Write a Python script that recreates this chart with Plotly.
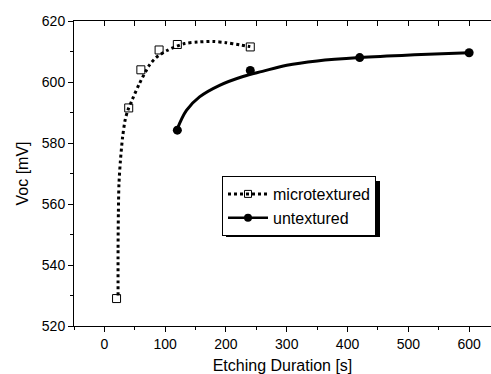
import plotly.graph_objects as go

# measured points
micro_x = [20, 40, 60, 90, 120, 240]
micro_y = [529.0, 591.5, 604.0, 610.5, 612.3, 611.5]
untex_x = [120, 240, 420, 600]
untex_y = [584.2, 603.8, 608.0, 609.6]

# fitted curves
micro_fit_x = [22.5, 22.5, 23.0, 24.0, 26.4, 30.0, 34.0, 38.5, 46.7, 57.7, 74.0, 85.0, 104.0, 132.0, 153.6, 178.5, 200.0, 222.4, 240.0]
micro_fit_y = [530.0, 545.0, 557.0, 566.7, 574.3, 582.0, 587.4, 590.7, 594.6, 599.5, 605.5, 608.0, 610.4, 612.6, 613.1, 613.3, 612.9, 612.2, 611.6]
untex_fit_x = [119, 135, 156.5, 189.5, 228, 260, 300, 350, 420, 510, 600]
untex_fit_y = [584.2, 590.7, 595.1, 598.9, 601.8, 603.5, 605.5, 606.9, 608.0, 608.9, 609.6]

x_ticks = [0, 100, 200, 300, 400, 500, 600]
y_ticks = [520, 540, 560, 580, 600, 620]

FONT = "Arial, Liberation Sans, sans-serif"

W, H = 491, 374
L, R, T, B = 74, 0, 21, 48

fig = go.Figure()
fig.add_trace(go.Scatter(x=micro_fit_x, y=micro_fit_y, mode="lines",
                         line=dict(color="black", width=3, dash="dot", shape="spline", smoothing=0.8),
                         showlegend=False, hoverinfo="skip"))
fig.add_trace(go.Scatter(x=untex_fit_x, y=untex_fit_y, mode="lines",
                         line=dict(color="black", width=3, shape="spline"),
                         showlegend=False, hoverinfo="skip"))
fig.add_trace(go.Scatter(x=micro_x, y=micro_y, mode="markers",
                         marker=dict(symbol="square-open", size=8, color="black", line=dict(width=1)),
                         showlegend=False))
fig.add_trace(go.Scatter(x=untex_x, y=untex_y, mode="markers",
                         marker=dict(symbol="circle", size=9, color="black"),
                         showlegend=False))
# legend entries
fig.add_trace(go.Scatter(x=[None], y=[None], mode="lines+markers", name="microtextured",
                         line=dict(color="black", width=3, dash="dot"),
                         marker=dict(symbol="square-open", size=7, color="black", line=dict(width=1))))
fig.add_trace(go.Scatter(x=[None], y=[None], mode="lines+markers", name="untextured",
                         line=dict(color="black", width=2.5),
                         marker=dict(symbol="circle", size=8, color="black")))

pw = W - L - R
ph = H - T - B

def px2paper_x(px):
    return (px - L) / pw

def px2paper_y(py):
    return (H - B - py) / ph

# legend shadow
fig.add_shape(type="rect", xref="paper", yref="paper",
              x0=px2paper_x(226), x1=px2paper_x(380),
              y0=px2paper_y(237), y1=px2paper_y(181),
              fillcolor="black", line=dict(width=0), layer="above")

fig.update_layout(
    width=W, height=H,
    margin=dict(l=L, r=R, t=T, b=B, autoexpand=False),
    paper_bgcolor="white", plot_bgcolor="white",
    font=dict(family=FONT, size=14, color="black"),
    showlegend=True,
    legend=dict(x=px2paper_x(222), y=px2paper_y(176), xanchor="left", yanchor="top",
                bgcolor="white", bordercolor="black", borderwidth=1,
                font=dict(size=16, family=FONT), itemwidth=40,
                tracegroupgap=0),
    xaxis=dict(range=[-50, 636], tickvals=x_ticks, ticks="outside", ticklen=5,
               tickwidth=1, tickcolor="black", showline=True, linecolor="black",
               linewidth=1, showgrid=False, zeroline=False, automargin=False,
               minor=dict(dtick=50, tick0=0, ticks="outside", ticklen=3, tickcolor="black"),
               title=dict(text="Etching Duration [s]", font=dict(size=16), standoff=9)),
    xaxis2=dict(range=[-50, 636], overlaying="x", side="top", automargin=False,
                tickvals=[-50 + 50 * i for i in range(14)], ticks="inside", ticklen=5,
                tickcolor="black", showticklabels=False, showline=True,
                linecolor="black", linewidth=1, showgrid=False, zeroline=False),
    yaxis=dict(range=[520, 620], tickvals=y_ticks, ticks="outside", ticklen=5,
               tickwidth=1, tickcolor="black", showline=True, linecolor="black",
               linewidth=1, showgrid=False, zeroline=False, automargin=False,
               minor=dict(dtick=10, tick0=520, ticks="outside", ticklen=3, tickcolor="black"),
               title=dict(text="Voc [mV]", font=dict(size=16), standoff=9)),
)
# dummy trace to activate top axis
fig.add_trace(go.Scatter(x=[None], y=[None], xaxis="x2", showlegend=False, hoverinfo="skip"))

fig.write_html("out.html", config={"displayModeBar": False, "staticPlot": True},
               post_script="document.body.style.margin='0';document.body.style.overflow='hidden';")
